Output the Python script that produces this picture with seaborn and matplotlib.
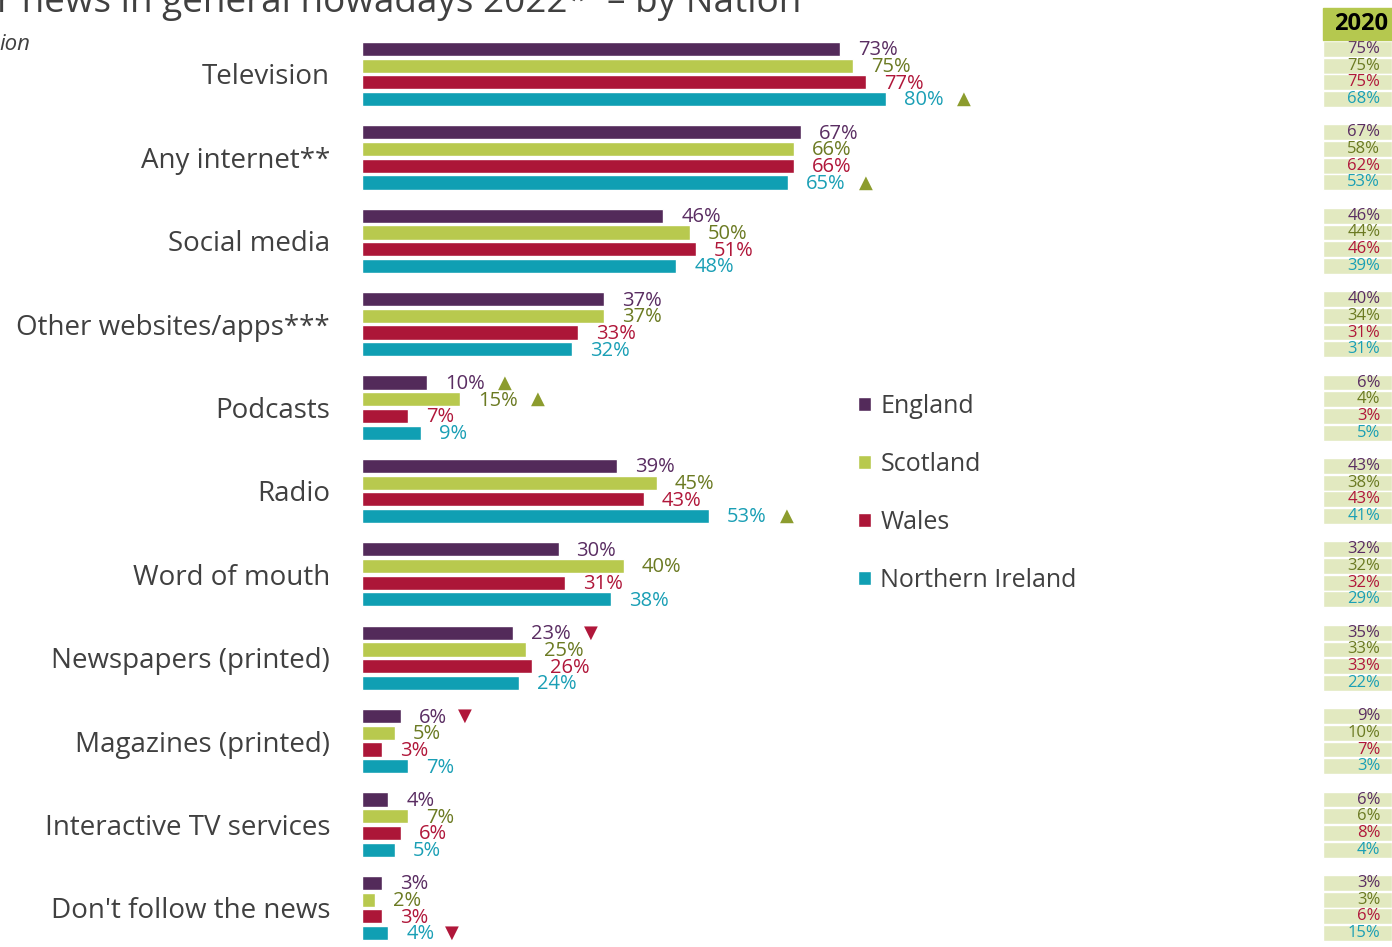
import pandas as pd
import seaborn as sns
import matplotlib.pyplot as plt
from matplotlib.patches import Rectangle

# Data
categories = ["Television", "Any internet**", "Social media", "Other websites/apps***",
              "Podcasts", "Radio", "Word of mouth", "Newspapers (printed)",
              "Magazines (printed)", "Interactive TV services", "Don't follow the news"]
nations = ["England", "Scotland", "Wales", "Northern Ireland"]

england_2022 = [73, 67, 46, 37, 10, 39, 30, 23, 6, 4, 3]
scotland_2022 = [75, 66, 50, 37, 15, 45, 40, 25, 5, 7, 2]
wales_2022 = [77, 66, 51, 33, 7, 43, 31, 26, 3, 6, 3]
ni_2022 = [80, 65, 48, 32, 9, 53, 38, 24, 7, 5, 4]

england_2020 = [75, 67, 46, 40, 6, 43, 32, 35, 9, 6, 3]
scotland_2020 = [75, 58, 44, 34, 4, 38, 32, 33, 10, 6, 3]
wales_2020 = [75, 62, 46, 31, 3, 43, 32, 33, 7, 8, 6]
ni_2020 = [68, 53, 39, 31, 5, 41, 29, 22, 3, 4, 15]

# significant changes vs 2020: (category index, nation)
sig_up = [(0, "Northern Ireland"), (1, "Northern Ireland"), (4, "England"),
          (4, "Scotland"), (5, "Northern Ireland")]
sig_down = [(7, "England"), (8, "England"), (10, "Northern Ireland")]

bar_colors = ["#532a5a", "#b8c94e", "#ac1638", "#109fb3"]
label_colors = ["#5a2d62", "#6b7a22", "#b0173a", "#1a9fb5"]
UP_COLOR = "#8c9c2e"
DOWN_COLOR = "#b0173a"
TEXT_GREY = "#404040"

values_2022 = [england_2022, scotland_2022, wales_2022, ni_2022]
values_2020 = [england_2020, scotland_2020, wales_2020, ni_2020]

df = pd.DataFrame({
    "category": categories * 4,
    "nation": [n for n in nations for _ in categories],
    "value": [v for vals in values_2022 for v in vals],
})

sns.set_theme(style="white")
plt.rcParams["font.family"] = ["Open Sans", "DejaVu Sans"]

W, H = 1392, 947
fig = plt.figure(figsize=(W / 100, H / 100), dpi=100)

# main bar axes
top_px = 32.3
ax = fig.add_axes([362 / W, 0, 938 / W, (H - top_px) / H])
sns.barplot(data=df, y="category", x="value", hue="nation", orient="h",
            palette=bar_colors, width=0.8, gap=0.15, ax=ax, legend=True,
            errorbar=None, saturation=1)
ax.set_xlim(0, 938 / 6.55)
ax.set_ylim(10.468, -0.5)
ax.set_xlabel("")
ax.set_ylabel("")
ax.set_xticks([])
sns.despine(ax=ax, left=True, bottom=True)
ax.tick_params(axis="y", length=0, pad=23, labelsize=20, labelcolor=TEXT_GREY)

offsets = [-0.3, -0.1, 0.1, 0.3]

# value labels and significance arrows
for j, nation in enumerate(nations):
    for i, v in enumerate(values_2022[j]):
        y = i + offsets[j]
        ax.annotate(f"{v}%", xy=(v, y), xytext=(13, -1), textcoords="offset points",
                    ha="left", va="center", fontsize=14.5, color=label_colors[j])
        shift = 51 if v >= 10 else 41
        if (i, nation) in sig_up:
            ax.annotate("▲", xy=(v, y), xytext=(shift, 0), textcoords="offset points",
                        ha="left", va="center", fontsize=13, color=UP_COLOR,
                        family="DejaVu Sans")
        if (i, nation) in sig_down:
            ax.annotate("▼", xy=(v, y), xytext=(shift, 0), textcoords="offset points",
                        ha="left", va="center", fontsize=13, color=DOWN_COLOR,
                        family="DejaVu Sans")

# legend
sns.move_legend(ax, "center left", bbox_to_anchor=(858 / W, (H - 493) / H),
                bbox_transform=fig.transFigure, frameon=False, title=None,
                fontsize=18, handlelength=0.5, handleheight=0.5,
                handletextpad=0.4, labelspacing=1.32, borderpad=0, borderaxespad=0)
for t in ax.get_legend().get_texts():
    t.set_color(TEXT_GREY)

# 2020 comparison column
ax2 = fig.add_axes([1323 / W, 0, 69 / W, (H - top_px) / H], sharey=ax)
ax2.set_xlim(0, 1)
ax2.axis("off")
for j in range(4):
    ys = [i + offsets[j] for i in range(len(categories))]
    ax2.barh(ys, [1] * len(ys), height=0.19, color="#e2e9c0", left=0)
    for i, v in enumerate(values_2020[j]):
        ax2.text(0.83, ys[i], f"{v}%", ha="right", va="center",
                 fontsize=12, color=label_colors[j])

fig.patches.append(Rectangle((1323 / W, (H - 40) / H), 69 / W, 32 / H,
                             transform=fig.transFigure, color="#b5c84f", zorder=0))
fig.text(1334 / W, (H - 24) / H, "2020", ha="left", va="center",
         fontsize=17, fontweight="bold", color="black")

# cropped title and subtitle
fig.text(-3 / W, (H - 12) / H, "r news in general nowadays 2022*  – by Nation",
         ha="left", va="baseline", fontsize=26.6, color=TEXT_GREY)
fig.text(-1 / W, (H - 50) / H, "ion", ha="left", va="baseline",
         fontsize=16, style="italic", color=TEXT_GREY)

fig.savefig("out.png", dpi=100)
